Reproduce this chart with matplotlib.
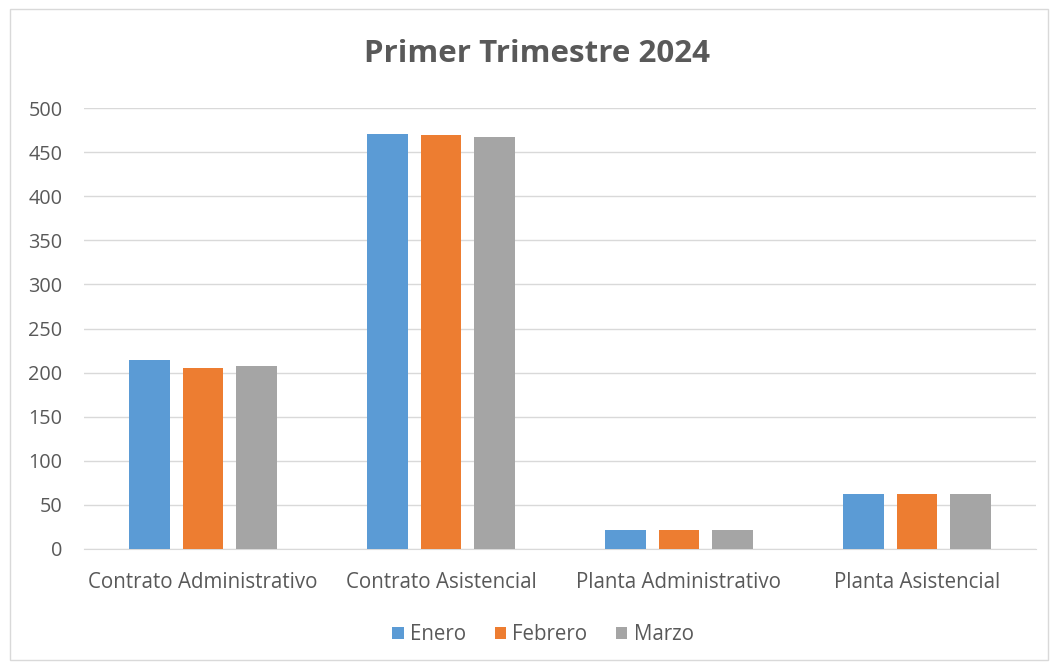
import numpy as np
import matplotlib
matplotlib.use('Agg')
import matplotlib.pyplot as plt
from matplotlib.patches import Rectangle

# Chart data
categories = ['Contrato Administrativo', 'Contrato Asistencial', 'Planta Administrativo', 'Planta Asistencial']
series = ['Enero', 'Febrero', 'Marzo']
enero = [214, 470, 21, 62]
febrero = [205, 469, 21, 62]
marzo = [207, 467, 21, 62]
y_ticks = [0, 50, 100, 150, 200, 250, 300, 350, 400, 450, 500]

colors = ['#5B9BD5', '#ED7D31', '#A5A5A5']
text_color = '#595959'

plt.rcParams['font.family'] = ['Open Sans', 'DejaVu Sans']

fig = plt.figure(figsize=(10.54, 6.67), dpi=100)
# chart border
fig.patches.append(Rectangle((10 / 1054, 7 / 667), 1038 / 1054, 651 / 667, transform=fig.transFigure,
                             fill=False, edgecolor='#D9D9D9', linewidth=1))

ax = fig.add_axes([84 / 1054, 1 - 549 / 667, 952 / 1054, 441 / 667])

x = np.arange(len(categories))
width = 0.172
step = 0.223
for i, (name, vals) in enumerate(zip(series, [enero, febrero, marzo])):
    ax.bar(x + (i - 1) * step, vals, width, color=colors[i], label=name, zorder=3)

ax.set_xlim(-0.5, len(categories) - 0.5)
ax.set_ylim(0, 500)
ax.set_yticks(y_ticks)
ax.set_xticks(x)
ax.set_xticklabels(categories)
ax.yaxis.grid(True, color='#D9D9D9', linewidth=1, zorder=0)
ax.tick_params(axis='both', length=0, colors=text_color)
ax.tick_params(axis='x', pad=16.5, labelsize=14.8)
ax.tick_params(axis='y', pad=15.5, labelsize=14.3)
for s in ['top', 'right', 'left']:
    ax.spines[s].set_visible(False)
ax.spines['bottom'].set_color('#D9D9D9')

fig.text(537 / 1054, 1 - 54 / 667, 'Primer Trimestre 2024', ha='center', va='center',
         fontsize=22.5, fontweight='bold', color=text_color)

leg = fig.legend(loc='center', bbox_to_anchor=(543 / 1054, 1 - 635 / 667), ncol=3, frameon=False,
                 fontsize=14.8, handlelength=0.55, handleheight=0.55, handletextpad=0.3, columnspacing=1.4)
for t in leg.get_texts():
    t.set_color(text_color)

fig.savefig('out.png', dpi=100)
